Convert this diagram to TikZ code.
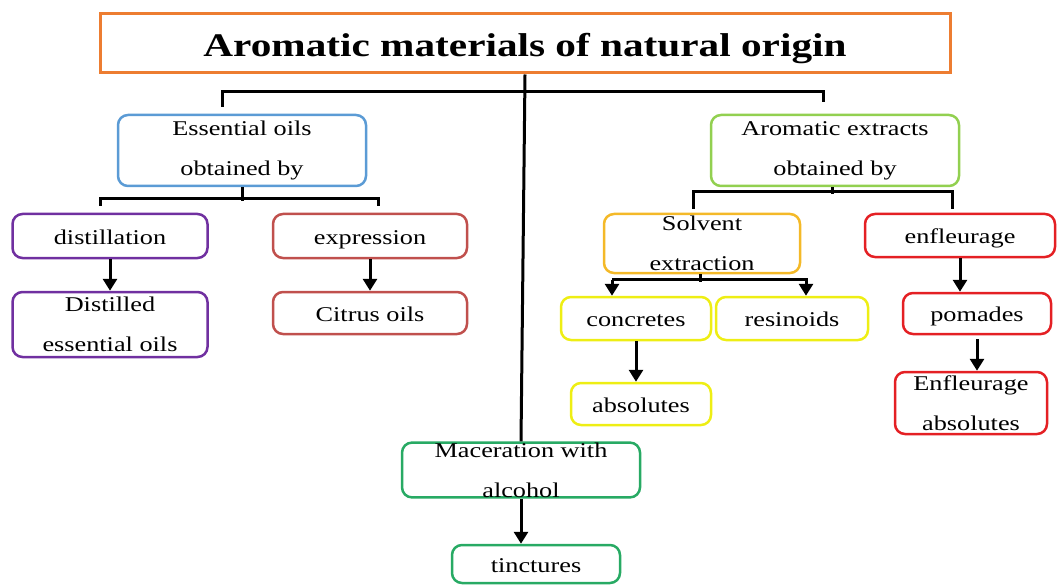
\documentclass[tikz,border=0pt]{standalone}
\usepackage{fontspec}
\setmainfont{Liberation Serif}[FakeStretch=1.25]
\usetikzlibrary{arrows.meta,calc}
\definecolor{ttl}{RGB}{237,125,49}
\definecolor{eoblue}{RGB}{91,155,213}
\definecolor{aegreen}{RGB}{146,208,80}
\definecolor{purp}{RGB}{112,48,160}
\definecolor{brick}{RGB}{192,80,77}
\definecolor{gold}{RGB}{244,185,40}
\definecolor{yel}{RGB}{238,238,20}
\definecolor{rd}{RGB}{228,32,36}
\definecolor{macgreen}{RGB}{40,170,100}
\tikzset{bx/.style={draw=#1,line width=2.5pt,rounded corners=10pt,inner sep=0pt,align=center,font=\fontsize{21}{40}\selectfont}}
\tikzset{one/.style={text height=17pt,text depth=1pt}}
\tikzset{ln/.style={line width=3pt,black}}
\tikzset{ar/.style={ln,-{Triangle[length=12pt,width=14pt]}}}

\begin{document}
\begin{tikzpicture}[x=1pt,y=-1pt]
  \useasboundingbox (0,0) rectangle (1059,585);
  \node[draw=ttl,line width=3pt,minimum width=850,minimum height=59,inner sep=0pt,text height=26pt,text depth=0pt,font=\fontsize{33}{33}\selectfont\bfseries] (title) at (525,43.5) {Aromatic materials of natural origin};
  % essential oils side
  \node[bx=eoblue,minimum width=248,minimum height=71] (ess) at (242,150.5) {Essential oils\\obtained by};
  \node[bx=purp,one,minimum width=195,minimum height=44] (dist) at (110,236) {distillation};
  \node[bx=brick,one,minimum width=194,minimum height=44] (expr) at (370,236) {expression};
  \node[bx=purp,minimum width=195,minimum height=65] (dieo) at (110,324.5) {Distilled\\essential oils};
  \node[bx=brick,one,minimum width=194,minimum height=42] (citrus) at (370,313) {Citrus oils};
  % aromatic extracts side
  \node[bx=aegreen,minimum width=248,minimum height=71] (aro) at (835,150.5) {Aromatic extracts\\obtained by};
  \node[bx=gold,minimum width=196,minimum height=59] (solv) at (702,243.5) {Solvent\\extraction};
  \node[bx=rd,one,minimum width=190,minimum height=43] (enfl) at (960,235.5) {enfleurage};
  \node[bx=yel,one,minimum width=150,minimum height=43] (conc) at (636,318.5) {concretes};
  \node[bx=yel,one,minimum width=152,minimum height=43] (resin) at (792,318.5) {resinoids};
  \node[bx=yel,one,minimum width=140,minimum height=42] (abso) at (641,404) {absolutes};
  \node[bx=rd,one,minimum width=148,minimum height=41] (pom) at (977,313.5) {pomades};
  \node[bx=rd,minimum width=152,minimum height=62] (enab) at (971,403) {Enfleurage\\absolutes};
  % maceration
  \node[bx=macgreen,minimum width=238,minimum height=54] (mac) at (521,470) {Maceration with\\alcohol};
  \node[bx=macgreen,one,minimum width=168,minimum height=38] (tinc) at (536,564) {tinctures};

  \draw[ln] (title.south) -- (mac.north);
  \draw[ln] ($(ess.north)+(-20,-7)$) |- ($(aro.north)+(-12,-22)$) -- ($(aro.north)+(-12,-12)$);
  \draw[ln] (ess.south) -- ++(0,14);
  \draw[ln] ($(dist.north)+(-10,-7)$) |- ($(expr.north)+(8,-14)$) -- ($(expr.north)+(8,-7)$);
  \draw[ln] ($(aro.south)+(-3,0)$) -- ++(0,7);
  \draw[ln] ($(solv.north)+(-9,-4)$) |- ($(enfl.north)+(-8,-21)$) -- ($(enfl.north)+(-8,-4)$);
  \draw[ln] ($(solv.south)+(-2,0)$) -- ++(0,8);
  \draw[ar] ($(conc.north)+(-24,2)$) ++(0,-18) |- ($(resin.north)+(14,-16)$) -- ($(resin.north)+(14,0)$);
  \draw[ar] ($(conc.north)+(-24,-16)$) -- ($(conc.north)+(-24,0)$);
  \draw[ar] (dist.south) -- (dist.south |- dieo.north);
  \draw[ar] (expr.south) -- (expr.south |- citrus.north);
  \draw[ar] (conc.south) -- (conc.south |- abso.north);
  \draw[ar] (enfl.south) -- (enfl.south |- pom.north);
  \draw[ar,shorten <=4pt] (pom.south) -- (pom.south |- enab.north);
  \draw[ar] (mac.south) -- (mac.south |- tinc.north);
\end{tikzpicture}
\end{document}
